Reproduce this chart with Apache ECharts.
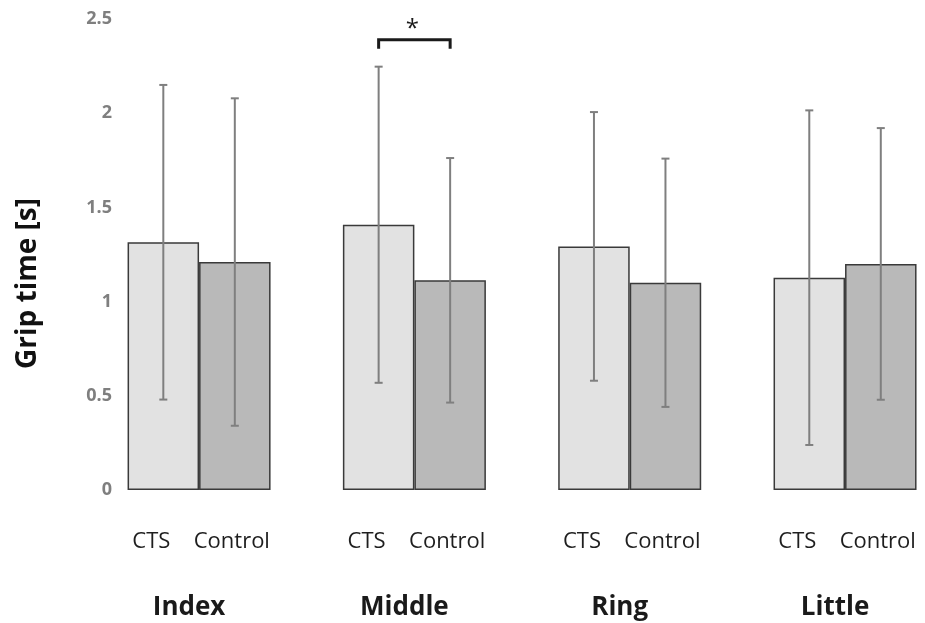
<!DOCTYPE html>
<html>
<head>
<meta charset="utf-8">
<title>Grip time</title>
<script src="https://cdn.jsdelivr.net/npm/echarts@6/dist/echarts.min.js"></script>
<style>
  html, body { margin: 0; padding: 0; background: #ffffff; }
  #chart { width: 925px; height: 623px; }
</style>
</head>
<body>
<div id="chart"></div>
<script>
// Fingers and groups
const fingers = ['Index', 'Middle', 'Ring', 'Little'];
const groupNames = ['CTS', 'Control'];

// Mean grip time [s] and standard deviation per finger
const ctsMean = [1.315, 1.408, 1.293, 1.127];
const ctsSD = [0.835, 0.839, 0.713, 0.888];
const controlMean = [1.210, 1.113, 1.100, 1.200];
const controlSD = [0.869, 0.649, 0.659, 0.721];

// Y axis ticks
const yTicks = [0, 0.5, 1, 1.5, 2, 2.5];

// Significance bracket: finger index, bracket height [s], marker text
const sigFinger = [1];
const sigLevel = [2.39];
const sigText = ['*'];

const BAR_W = 71.5;
const FONT = '"Open Sans", "Noto Sans", sans-serif';

const chart = echarts.init(document.getElementById('chart'), null, { renderer: 'canvas' });

function errorBarSeries(means, sds, side) {
  return {
    type: 'custom',
    z: 5,
    silent: true,
    data: means.map((m, i) => [i, m, sds[i]]),
    encode: { x: 0, y: 1 },
    renderItem: function (params, api) {
      const c = api.value(0), m = api.value(1), s = api.value(2);
      const x = api.coord([c, m])[0] + side * BAR_W / 2;
      const yHi = api.coord([c, m + s])[1];
      const yLo = api.coord([c, m - s])[1];
      const cap = 4;
      const style = { stroke: '#7f7f7f', lineWidth: 2 };
      return {
        type: 'group',
        children: [
          { type: 'line', shape: { x1: x, y1: yHi, x2: x, y2: yLo }, style: style },
          { type: 'line', shape: { x1: x - cap, y1: yHi, x2: x + cap, y2: yHi }, style: style },
          { type: 'line', shape: { x1: x - cap, y1: yLo, x2: x + cap, y2: yLo }, style: style }
        ]
      };
    }
  };
}

function barSeries(name, values, color, labelOffset) {
  return {
    name: name,
    type: 'bar',
    barWidth: BAR_W,
    barGap: '0%',
    data: values,
    itemStyle: { color: color, borderColor: '#3a3a3a', borderWidth: 1.5 },
    label: {
      show: true,
      position: 'bottom',
      distance: 41,
      offset: labelOffset,
      formatter: name,
      fontFamily: FONT,
      fontSize: 22,
      color: '#1e1e1e'
    },
    emphasis: { disabled: true }
  };
}

const option = {
  backgroundColor: '#ffffff',
  animation: false,
  grid: {
    left: 91.4, top: 19, right: -27.7, bottom: 133,
    containLabel: false,
    outerBoundsMode: 'none'
  },
  xAxis: {
    type: 'category',
    data: fingers,
    axisLine: { show: false },
    axisTick: { show: false },
    axisLabel: {
      margin: 105,
      fontFamily: FONT,
      fontSize: 26,
      fontWeight: 'bold',
      color: '#1a1a1a',
      padding: [0, 20, 0, 0]
    },
    splitLine: { show: false }
  },
  yAxis: {
    type: 'value',
    min: 0,
    max: 2.5,
    interval: 0.5,
    offset: -20.6,
    axisLine: { show: false },
    axisTick: { show: false },
    splitLine: { show: false },
    axisLabel: {
      margin: 0,
      fontFamily: FONT,
      fontSize: 18,
      fontWeight: 'bold',
      color: '#7f7f7f',
      customValues: yTicks,
      formatter: v => String(v)
    },
    name: 'Grip time [s]',
    nameLocation: 'middle',
    nameGap: 70,
    nameTextStyle: {
      fontFamily: FONT,
      fontSize: 28,
      fontWeight: 'bold',
      color: '#111111',
      padding: [0, 58, 0, 0]
    }
  },
  series: [
    barSeries(groupNames[0], ctsMean, '#e2e2e2', [-12, 0]),
    barSeries(groupNames[1], controlMean, '#b9b9b9', [-3, 0]),
    errorBarSeries(ctsMean, ctsSD, -1),
    errorBarSeries(controlMean, controlSD, 1),
    {
      type: 'custom',
      z: 6,
      silent: true,
      data: sigFinger.map((f, i) => [f, sigLevel[i]]),
      encode: { x: 0, y: 1 },
      renderItem: function (params, api) {
        const c = api.value(0), lv = api.value(1);
        const p = api.coord([c, lv]);
        const x1 = p[0] - BAR_W / 2, x2 = p[0] + BAR_W / 2;
        const y = p[1], leg = 9;
        return {
          type: 'group',
          children: [
            {
              type: 'polyline',
              shape: { points: [[x1, y + leg], [x1, y], [x2, y], [x2, y + leg]] },
              style: { stroke: '#1a1a1a', lineWidth: 3, fill: null, lineJoin: 'miter' }
            },
            {
              type: 'text',
              style: {
                x: p[0] - 2, y: y - 11,
                text: sigText[params.dataIndex],
                fontFamily: FONT, fontSize: 24, fill: '#1a1a1a',
                align: 'center', verticalAlign: 'middle'
              }
            }
          ]
        };
      }
    }
  ]
};

chart.setOption(option);
</script>
</body>
</html>
